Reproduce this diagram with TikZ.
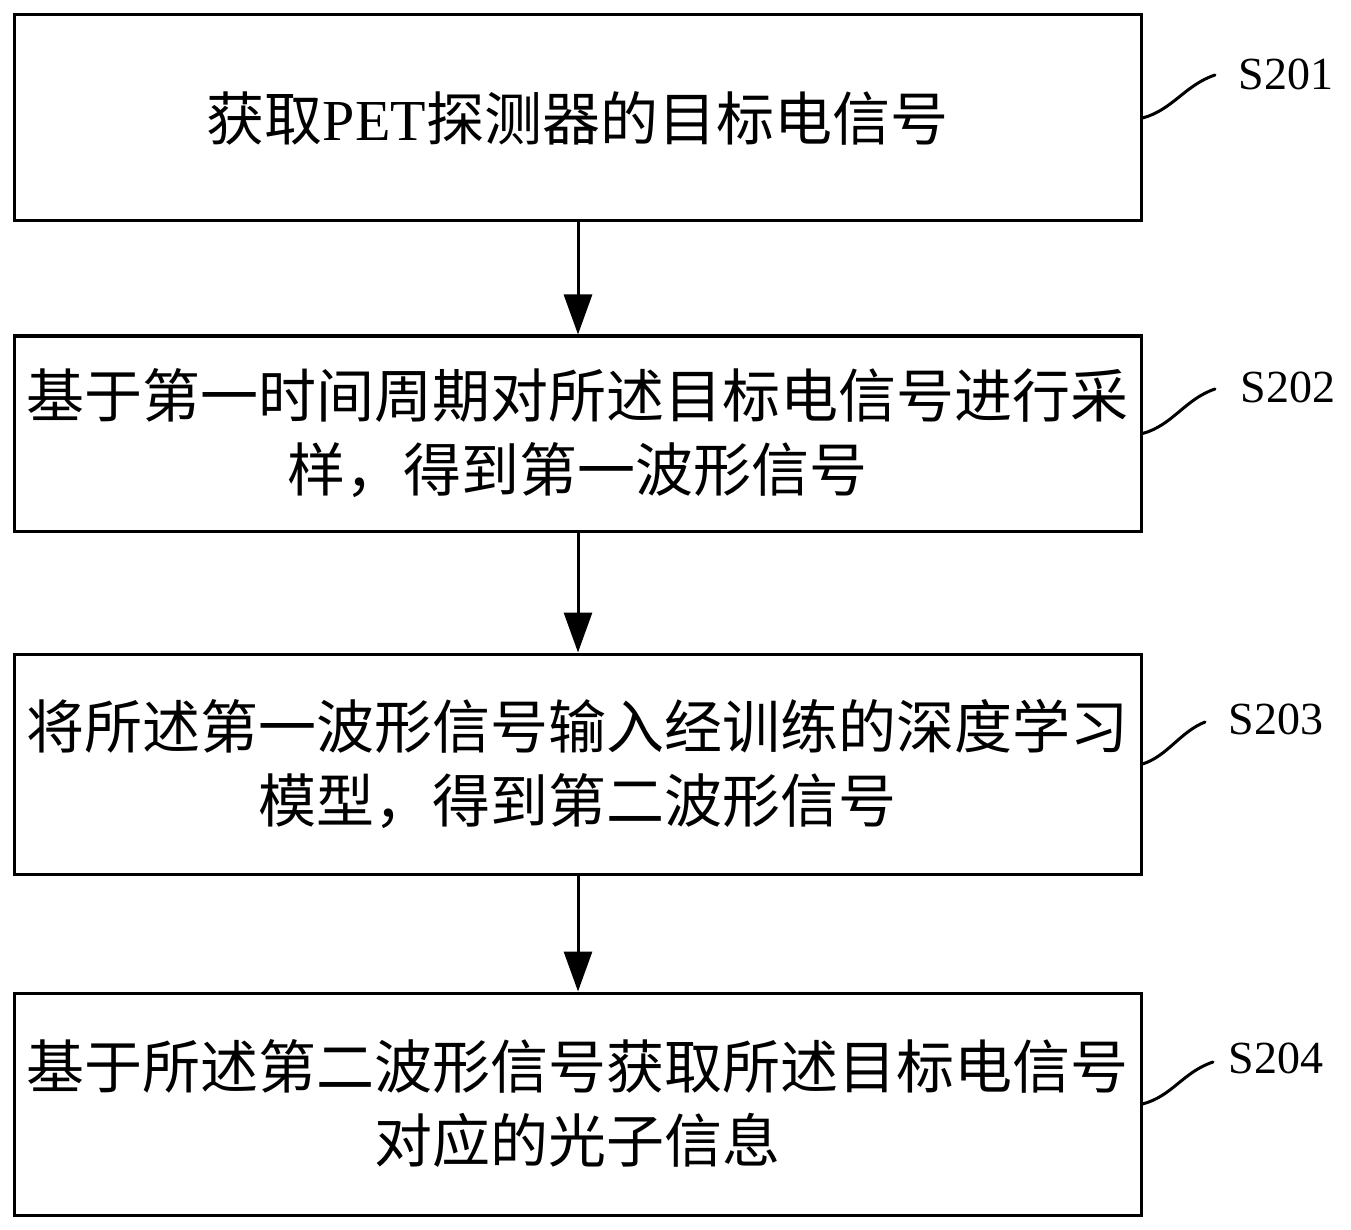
\documentclass[tikz,border=0pt]{standalone}
\usepackage{fontspec}
\setmainfont{Liberation Serif}
\newfontfamily\cjk{Noto Sans CJK SC}
\usetikzlibrary{arrows.meta}
\begin{document}
\begin{tikzpicture}[x=1pt,y=-1pt,
  stepbox/.style={draw=black, line width=3pt, minimum width=1127pt, align=center,
    inner sep=0pt, font=\fontsize{58}{74}\selectfont\cjk},
  flow/.style={line width=3pt, -{Triangle[length=40pt,width=28pt]}},
  squig/.style={line width=3pt, line cap=round},
  lab/.style={font=\fontsize{46}{50}\selectfont, inner sep=0pt}]
\useasboundingbox (0,0) rectangle (1351,1230);
\node[stepbox, minimum height=206pt] (b1) at (577.5,118) {获取{\rmfamily PET}探测器的目标电信号};
\node[stepbox, minimum height=195pt] (b2) at (577.5,433.5) {基于第一时间周期对所述目标电信号进行采\\样，得到第一波形信号};
\node[stepbox, minimum height=220pt] (b3) at (577.5,764) {将所述第一波形信号输入经训练的深度学习\\模型，得到第二波形信号};
\node[stepbox, minimum height=222pt] (b4) at (577.5,1104) {基于所述第二波形信号获取所述目标电信号\\对应的光子信息};
\draw[flow] (b1.south -| 578,0) -- (b2.north -| 578,0);
\draw[flow] (b2.south -| 578,0) -- (b3.north -| 578,0);
\draw[flow] (b3.south -| 578,0) -- (b4.north -| 578,0);
\node[lab] (l1) at (1286,74) {S201};
\node[lab] (l2) at (1288,387) {S202};
\node[lab] (l3) at (1276,719) {S203};
\node[lab] (l4) at (1276,1058) {S204};
\coordinate (e1) at (1215,75);
\coordinate (e2) at (1215,389);
\coordinate (e3) at (1205,722);
\coordinate (e4) at (1213,1062);
\draw[squig] (b1.east) .. controls +(30,-8) and +(-30,10) .. (e1);
\draw[squig] (b2.east) .. controls +(30,-8) and +(-30,10) .. (e2);
\draw[squig] (b3.east) .. controls +(25,-8) and +(-25,10) .. (e3);
\draw[squig] (b4.east) .. controls +(30,-8) and +(-30,10) .. (e4);
\end{tikzpicture}
\end{document}
